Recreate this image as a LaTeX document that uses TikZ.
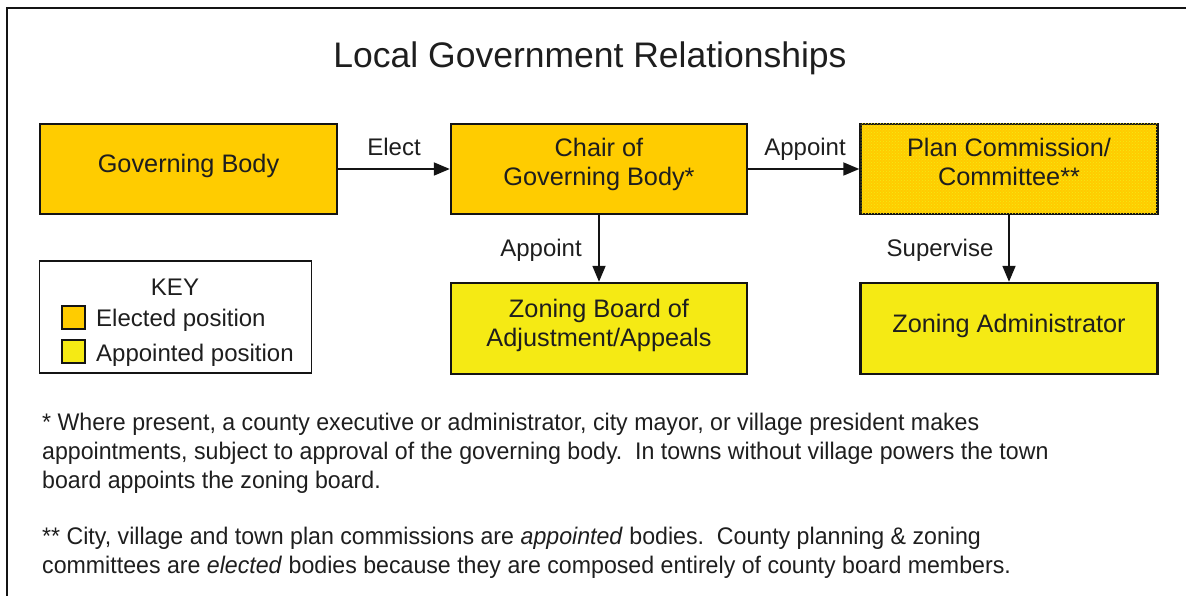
\documentclass[tikz,border=0pt]{standalone}
\usepackage{fontspec}
\setmainfont{Liberation Sans}
\newfontfamily\notefont[FakeStretch=0.965]{Liberation Sans}
\usetikzlibrary{arrows.meta,patterns}
\definecolor{elected}{HTML}{FFCC00}
\definecolor{appointed}{HTML}{F5EA14}
\definecolor{ink}{HTML}{1E1E1E}
\definecolor{frame}{HTML}{141414}
\tikzset{
  box/.style={draw=frame, line width=2.4pt, inner sep=0pt},
  elect/.style={box, fill=elected},
  appt/.style={box, fill=appointed},
  mixed/.style={box, fill=elected, postaction={pattern=crosshatch dots, pattern color=appointed}},
  boxtext/.style={text=ink, inner sep=0pt, align=center, anchor=base,
    font=\fontsize{25.3}{29}\selectfont},
  conn/.style={draw=frame, line width=1.8pt, -{Triangle[length=16pt,width=13pt]}},
  lbl/.style={text=ink, font=\fontsize{24}{28}\selectfont, inner sep=0pt, anchor=base},
  note/.style={text=ink, font=\notefont\fontsize{24}{28.7}\selectfont, inner sep=0pt, align=left, anchor=base west},
  swatch/.style={draw=frame, line width=1.6pt, minimum width=23pt, minimum height=23pt, inner sep=0pt},
}
\begin{document}
\begin{tikzpicture}[x=1pt,y=-1pt]
\useasboundingbox (0,0) rectangle (1186,596);
\draw[frame, line width=2.6pt] (7,600) -- (7,8) -- (1190,8);

\node[text=ink, font=\fontsize{35.5}{40}\selectfont, inner sep=0pt, anchor=base] (title) at (590,68) {Local Government Relationships};

\node[elect, minimum width=297pt, minimum height=90pt] (gov) at (188.5,169) {};
\node[elect, minimum width=296pt, minimum height=90pt] (chair) at (599,169) {};
\node[mixed, minimum width=297pt, minimum height=90pt] (plan) at (1009,169) {};
\node[appt, minimum width=296pt, minimum height=91pt] (zba) at (599,328.5) {};
\node[appt, minimum width=297pt, minimum height=91pt] (za) at (1009,328.5) {};

\node[boxtext] (govt) at (188.5,173) {Governing Body};
\node[boxtext] (chairt) at (599,186) {Chair of\\Governing Body*};
\node[boxtext] (plant) at (1009,186) {Plan Commission/\\Committee**};
\node[boxtext] (zbat) at (599,346) {Zoning Board of\\Adjustment/Appeals};
\node[boxtext] (zat) at (1009,332) {Zoning Administrator};

\draw[conn] (gov) -- (chair);
\draw[conn] (chair) -- (plan);
\draw[conn] (chair) -- (zba);
\draw[conn] (plan) -- (za);

\node[lbl] (l1) at (394,156) {Elect};
\node[lbl] (l2) at (805,156) {Appoint};
\node[lbl] (l3) at (541,257) {Appoint};
\node[lbl] (l4) at (940,257) {Supervise};

\node[draw=frame, line width=1.8pt, minimum width=272pt, minimum height=112pt, inner sep=0pt] (key) at (175.5,317) {};
\node[lbl] (keyt) at (175,295) {KEY};
\node[swatch, fill=elected] (s1) at (73.5,317.5) {};
\node[swatch, fill=appointed] (s2) at (73.5,351.5) {};
\node[lbl, anchor=base west] (k1) at (96,326) {Elected position};
\node[lbl, anchor=base west] (k2) at (96,361) {Appointed position};

\node[note] (n1) at (42,488) {* Where present, a county executive or administrator, city mayor, or village president makes\\appointments, subject to approval of the governing body.\ \ In towns without village powers the town\\board appoints the zoning board.};
\node[note] (n2) at (42,573) {** City, village and town plan commissions are \textit{appointed} bodies.\ \ County planning \& zoning\\committees are \textit{elected} bodies because they are composed entirely of county board members.};
\end{tikzpicture}
\end{document}
